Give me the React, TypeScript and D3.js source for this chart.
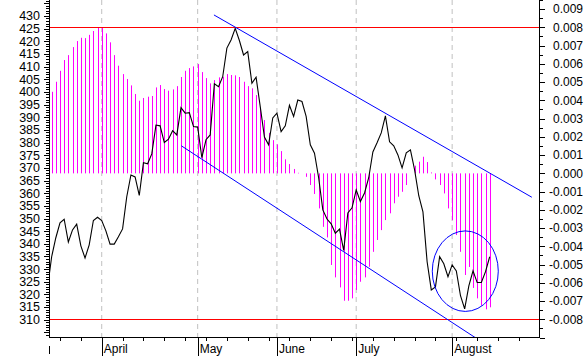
import React from 'react';
import * as d3 from 'd3';

const W = 587;
const H = 356;

// price series (left axis), one value per trading day starting at day index -3
const PRICE_START = -3;
const price = [
  322.6, 334.9, 342.4, 348.3, 349.7, 340.7, 345.5, 347.8, 339.2, 334.4,
  339.6, 349.2, 350.5, 349.2, 345.1, 339.9, 339.9, 342.8, 345.9, 358.6,
  367.2, 366.4, 359.1, 372.0, 371.6, 375.5, 386.9, 386.6, 380.0, 381.3,
  384.7, 383.0, 393.8, 391.6, 391.8, 386.3, 386.1, 374.0, 381.1, 383.0,
  403.2, 402.1, 406.0, 417.3, 420.5, 425.1, 420.3, 414.6, 415.9, 403.4,
  405.8, 394.2, 382.2, 379.1, 389.7, 391.6, 384.3, 386.6, 394.7, 390.3,
  396.8, 396.2, 390.3, 379.1, 375.8, 366.1, 353.4, 349.8, 347.9, 344.2,
  345.8, 337.4, 352.2, 354.2, 361.3, 356.7, 360.1, 366.1, 376.3, 379.9,
  383.8, 390.5, 380.3, 378.7, 375.1, 370.0, 375.9, 377.1, 369.2, 359.0,
  352.6, 332.9, 321.8, 323.0, 334.9, 332.1, 327.0, 331.7, 329.3, 319.5,
  314.3, 323.4, 329.3, 324.7, 324.7, 329.0, 334.9,
];

// oscillator histogram (right axis), starting at day index -2
const OSC_START = -2;
const osc = [
  0.00447, 0.00502, 0.00562, 0.00621, 0.00648, 0.00692, 0.00725, 0.00743, 0.00741, 0.00759,
  0.0078, 0.00798, 0.00798, 0.00767, 0.00718, 0.00648, 0.0059, 0.00544, 0.00517, 0.00482,
  0.00435, 0.00398, 0.00413, 0.0042, 0.00424, 0.00471, 0.00484, 0.00462, 0.00453, 0.0046,
  0.00478, 0.00528, 0.00562, 0.00577, 0.00586, 0.00599, 0.00555, 0.00522, 0.00493, 0.00511,
  0.00526, 0.00529, 0.00544, 0.00539, 0.00537, 0.00528, 0.00502, 0.00478, 0.00466, 0.00429,
  0.00359, 0.00292, 0.00222, 0.00182, 0.00159, 0.00122, 0.00077, 0.00051, 0.00024, 0.00003,
  0.0, -0.00019, -0.00064, -0.00113, -0.00192, -0.00293, -0.00351, -0.00502, -0.0057, -0.00625,
  -0.00698, -0.00698, -0.00685, -0.00639, -0.00594, -0.0057, -0.00512, -0.0043, -0.00365, -0.00311,
  -0.00256, -0.00219, -0.00164, -0.00128, -0.00101, -0.00064, 0.0, 0.00042, 0.00064, 0.00091,
  0.00062, 0.00005, -0.00033, -0.00064, -0.0011, -0.00192, -0.00256, -0.00338, -0.0043, -0.00557,
  -0.00513, -0.00628, -0.00685, -0.00724, -0.00745, -0.00734,
];

const leftTickValues = d3.range(310, 431, 5);
const rightTickValues = d3.range(-8, 10).map((d) => d / 1000);
const monthLabels = ['April', 'May', 'June', 'July', 'August'];
const monthDays = [10, 33, 52, 71, 94];
const weekDays = d3.range(0, 111, 5);
const upperChannel: [number, number][] = [[36.9, 430.4], [113.1, 358.4]];
const lowerChannel: [number, number][] = [[29.1, 378.7], [99.5, 303.0]];
const ellipse = { day: 97.15, value: 329.2, dDays: 7.91, dValue: 15.9 };
const redLevels = [0.008, -0.008];

const L = 49;
const R = 539;
const B = 337;

export default function App() {
  const x = d3.scaleLinear().domain([0, 110]).range([60, 518.9]);
  const yL = d3.scaleLinear().domain([303.2, 436.3]).range([B, 0]);
  const yR = d3.scaleLinear().domain([-0.009, 0.0095]).range([337.6, 0]);

  const pricePts: [number, number][] = price.map((v, i) => [x(PRICE_START + i), yL(v)]);
  const line = d3.line();
  const font = '"Liberation Sans", Arial, sans-serif';

  const leftMinor = d3.range(304, 437, 1);
  const rightMinor = d3.range(-18, 20).map((d) => d / 2000);

  return (
    <svg
      width={W}
      height={H}
      style={{ position: 'absolute', left: 0, top: 0, background: '#fff' }}
      fontFamily={font}
    >
      <defs>
        <clipPath id="plot">
          <rect x={L} y={0} width={R - L} height={B} />
        </clipPath>
      </defs>
      <rect x={0} y={0} width={W} height={H} fill="#fff" />
      {/* month grid */}
      {monthDays.map((d, i) => (
        <line key={'g' + i} x1={x(d)} x2={x(d)} y1={0} y2={B} stroke="#c0c0c0" strokeDasharray="5,4" />
      ))}
      <g clipPath="url(#plot)">
        {osc.map((v, i) => (
          <line
            key={'b' + i}
            x1={Math.round(x(OSC_START + i)) + 0.5}
            x2={Math.round(x(OSC_START + i)) + 0.5}
            y1={yR(0)}
            y2={yR(v)}
            stroke="#ff00ff"
            strokeWidth={1}
          />
        ))}
        {redLevels.map((v, i) => (
          <line key={'r' + i} x1={L} x2={R} y1={Math.round(yR(v)) + 0.5} y2={Math.round(yR(v)) + 0.5} stroke="#ff0000" />
        ))}
        <path d={line(pricePts) || ''} fill="none" stroke="#000" strokeWidth={1.1} />
        {[upperChannel, lowerChannel].map((c, i) => (
          <line key={'c' + i} x1={x(c[0][0])} y1={yL(c[0][1])} x2={x(c[1][0])} y2={yL(c[1][1])} stroke="#0000ff" />
        ))}
        <ellipse
          cx={x(ellipse.day)}
          cy={yL(ellipse.value)}
          rx={x(ellipse.day + ellipse.dDays) - x(ellipse.day)}
          ry={yL(ellipse.value - ellipse.dValue) - yL(ellipse.value)}
          fill="none"
          stroke="#0000ff"
        />
      </g>
      {/* axes */}
      <line x1={L + 0.5} x2={L + 0.5} y1={0} y2={B} stroke="#000" />
      <line x1={R + 0.5} x2={R + 0.5} y1={0} y2={B} stroke="#000" />
      <line x1={L} x2={R + 1} y1={B + 0.5} y2={B + 0.5} stroke="#000" />
      {leftMinor.map((v) => (
        <line key={'lm' + v} x1={L - (v % 5 === 0 ? 5 : 3)} x2={L} y1={Math.round(yL(v)) + 0.5} y2={Math.round(yL(v)) + 0.5} stroke="#000" />
      ))}
      {leftTickValues.map((v) => (
        <text key={'lt' + v} x={40} y={yL(v)} dy="0.35em" textAnchor="end" fontSize={12.5}>
          {v}
        </text>
      ))}
      {rightMinor.map((v, i) => (
        <line key={'rm' + i} x1={R + 1} x2={R + 1 + (i % 2 === 0 ? 5 : 3)} y1={Math.round(yR(v)) + 0.5} y2={Math.round(yR(v)) + 0.5} stroke="#000" />
      ))}
      {rightTickValues.map((v) => (
        <text key={'rt' + v} x={583} y={yR(v)} dy="0.35em" textAnchor="end" fontSize={12}>
          {(v < 0 ? '-' : '') + Math.abs(v).toFixed(3)}
        </text>
      ))}
      {weekDays.map((d) => (
        <line key={'w' + d} x1={Math.round(x(d)) + 0.5} x2={Math.round(x(d)) + 0.5} y1={B} y2={B + 4} stroke="#000" />
      ))}
      <line x1={L + 0.5} x2={L + 0.5} y1={346} y2={354} stroke="#000" />
      {monthDays.map((d, i) => (
        <g key={'m' + i}>
          <line x1={Math.round(x(d)) + 0.5} x2={Math.round(x(d)) + 0.5} y1={B} y2={H} stroke="#000" />
          <text x={x(d) + 2} y={353} fontSize={12}>
            {monthLabels[i]}
          </text>
        </g>
      ))}
    </svg>
  );
}
